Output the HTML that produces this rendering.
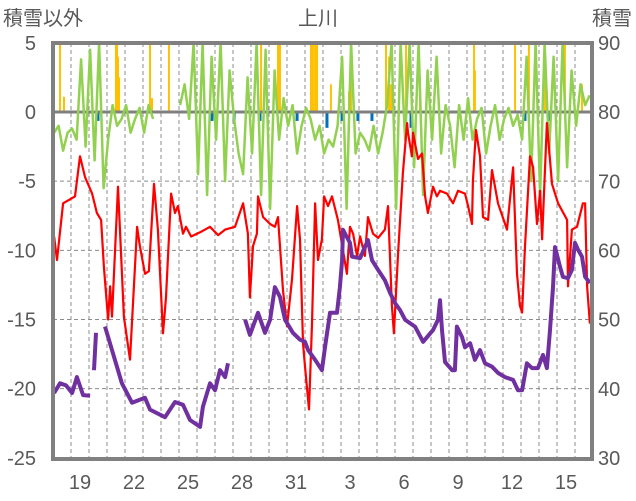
<!DOCTYPE html>
<html><head><meta charset="utf-8"><style>
body{margin:0;background:#fff;}
svg{display:block;font-family:"Liberation Sans","Noto Sans CJK JP",sans-serif;}
</style></head><body>
<svg id="chart" width="636" height="501" viewBox="0 0 636 501" xmlns="http://www.w3.org/2000/svg">
<defs><clipPath id="pc"><rect x="53" y="43" width="539" height="416"/></clipPath></defs>
<text x="3" y="25" font-size="20" fill="#595959">積雪以外</text>
<text x="318" y="25" font-size="20" fill="#595959" text-anchor="middle">上川</text>
<text x="632" y="25" font-size="20" fill="#595959" text-anchor="end">積雪</text>
<g id="grid"></g>
<g id="bars" clip-path="url(#pc)"></g>
<g id="lines" clip-path="url(#pc)"></g>
<g id="ticks"></g>
<rect x="53" y="43" width="539" height="416" fill="none" stroke="#808080" stroke-width="4"/>
</svg>
<script>
const leftTicks=[5,0,-5,-10,-15,-20,-25];
const rightTicks=[90,80,70,60,50,40,30];
const xLabels=["19","22","25","28","31","3","6","9","12","15"];
const xLabelDays=[1.5,4.5,7.5,10.5,13.5,16.5,19.5,22.5,25.5,28.5];
const redT=[0.06,0.22,0.56,1.22,1.5,1.78,2.17,2.44,2.67,2.83,3.06,3.17,3.28,3.61,3.94,4.28,4.67,4.83,5.11,5.33,5.61,5.83,6.11,6.28,6.56,6.78,6.94,7.22,7.39,7.67,8.17,8.72,9.17,9.56,10.11,10.56,10.83,10.94,11.11,11.33,11.39,11.67,12.06,12.33,12.5,12.78,13.0,13.28,13.56,13.72,13.89,14.0,14.22,14.39,14.56,14.72,14.94,15.06,15.28,15.5,15.83,16.33,16.5,16.67,16.89,17.06,17.33,17.5,17.78,18.06,18.44,18.61,18.83,18.94,19.17,19.44,19.67,19.72,19.94,20.0,20.28,20.5,20.67,20.83,21.11,21.33,21.5,21.89,22.22,22.5,22.89,23.06,23.28,23.33,23.5,23.72,23.89,24.17,24.39,24.72,25.22,25.56,25.78,25.94,26.06,26.22,26.5,26.67,26.89,27.06,27.17,27.44,27.72,28.06,28.56,28.61,28.83,29.11,29.44,29.56,29.67,29.83];
const redV=[-9.0,-10.7,-6.6,-6.1,-3.2,-4.7,-5.9,-7.3,-7.8,-11.2,-15.0,-12.6,-14.8,-5.4,-14.8,-17.9,-8.3,-9.7,-11.7,-11.5,-5.2,-8.5,-16.0,-13.4,-5.9,-7.3,-6.8,-8.8,-8.3,-9.0,-8.7,-8.3,-8.9,-8.5,-8.3,-6.6,-8.8,-13.4,-9.7,-8.8,-6.1,-7.6,-8.1,-8.3,-7.6,-12.9,-15.5,-12.1,-6.8,-9.2,-16.7,-18.4,-21.5,-15.3,-6.6,-10.7,-9.2,-6.1,-6.8,-6.1,-7.8,-11.7,-8.3,-8.8,-10.4,-9.0,-10.4,-7.6,-8.8,-9.1,-8.5,-6.8,-14.0,-16.0,-10.2,-4.4,-0.8,-1.5,-3.2,-1.5,-3.4,-3.0,-6.1,-7.3,-5.4,-6.1,-5.7,-5.9,-6.6,-5.7,-5.9,-6.8,-8.1,-5.0,-1.3,-3.2,-7.6,-7.8,-4.2,-6.6,-8.5,-4.0,-11.7,-14.0,-14.5,-9.7,-3.2,-4.0,-8.1,-5.7,-9.2,-0.8,-5.2,-6.6,-7.8,-12.6,-8.5,-8.3,-6.6,-6.6,-12.6,-15.3];
const snowT=[0.06,0.39,0.72,1.06,1.33,1.67,2.06,null,2.28,2.39,null,2.89,3.44,3.83,4.39,5.11,5.39,6.22,6.78,7.22,7.61,8.17,8.33,8.72,9.0,9.28,9.56,9.72,null,10.67,10.94,11.39,11.78,12.06,12.33,12.61,12.89,13.33,13.72,14.0,14.17,14.56,14.94,15.11,15.39,15.78,15.94,16.06,16.11,16.5,16.61,17.06,17.33,17.5,17.72,18.06,18.44,18.72,19.0,19.28,19.56,19.83,20.11,20.56,21.11,21.39,21.5,21.61,21.78,22.17,22.33,22.44,22.72,22.89,23.17,23.44,23.72,24.0,24.39,24.72,25.11,25.56,25.83,26.06,26.33,26.61,26.94,27.22,27.44,27.61,27.78,27.89,28.17,28.33,28.61,28.83,29.0,29.17,29.39,29.56,29.83];
const snowV=[39.4,40.8,40.5,39.4,41.7,39.1,39.0,null,42.7,48.1,null,49.0,44.2,40.8,38.0,38.7,37.0,35.9,38.1,37.7,35.5,34.5,37.4,40.8,39.8,42.7,41.7,43.7,null,50.0,47.8,51.0,48.1,50.0,54.7,53.3,50.0,48.1,47.1,46.8,45.6,44.2,42.7,46.0,51.0,51.0,54.7,58.6,63.0,61.1,59.1,58.9,60.5,61.5,58.6,57.2,55.7,53.9,52.4,51.4,50.0,49.5,49.0,46.8,48.5,50.0,52.8,48.5,43.9,42.7,42.7,49.0,47.5,46.0,46.6,44.2,45.6,43.7,43.2,42.3,41.7,41.3,39.8,39.8,43.7,43.0,43.0,44.9,43.0,48.5,54.7,60.5,57.6,56.2,56.0,57.2,61.1,60.1,59.1,56.2,55.3];
const greenStep=0.25;
const greenV=[-1.5,-1.0,-2.8,-1.5, -1.2,-2.0,3.8,-2.5, 4.5,-3.5,5,-5.5, -2.0,0.5,-1.0,-0.5, 0.5,-1.5,-0.5,0.3, -1.5,0.5,-0.5,null, null,null,null,null, 0.5,2.0,-0.5,5, -4.5,5,-6,4, -2,5,-5,3, -0.5,-3,-4.5,2.5, -3,5,-6,4.5, -7,3,-2,1, -1,0.5,-3,-1, 0.3,-0.5,-2,-1, -3,-2,-2.5,-1, 4,-7,5,-3, -1.5,-2,-2.8,-1, -3,-1.5,0.5,5, -7,5,-2,5, -4,5,-6,3, -2,4,-3,0.5, -1,-4,0.5,-2, 1,-2,-0.5,0.3, -3,-1,0.5,-2, -0.5,0.3,-1,-0.2, -2,4,-5,5, -6,5,-3,4, -5,5,-4,3, -1,2,0.5,1.2];
const orangeT=[0.39,0.61,3.5,3.56,3.61,3.67,5.39,5.5,6.44,11.56,12.5,12.61,14.33,14.44,14.56,14.67,15.44,16.44,16.56,18.5,18.67,18.78,19.61,20.39,23.39,23.44,25.67,26.44,27.33,27.44,28.44,29.39];
const orangeV=[5,1.1,5,5,4,2.5,5,1,5,5,5,5,5,5,5,5,2,1.5,5,5,4,2,5,2.5,5,3,5,5,5,1.5,5,2];
const blueT=[2.5,8.83,10.06,11.5,13.56,15.22,16.06,16.94,17.72,19.89,26.22,27.5];
const blueV=[-0.5,-0.5,-0.5,-0.5,-0.5,-1,-0.5,-0.5,-0.5,-1,-0.5,-0.5];

const NS='http://www.w3.org/2000/svg';
const X0=53,DAY=18,nDays=30;
const xs=t=>X0+t*DAY;
const yL=v=>112-v*13.833;
const yR=s=>43+(90-s)*6.917;
function mk(tag,attrs,parent){const e=document.createElementNS(NS,tag);for(const k in attrs)e.setAttribute(k,attrs[k]);parent.appendChild(e);return e;}
const grid=document.getElementById('grid'),ticks=document.getElementById('ticks'),bars=document.getElementById('bars'),lines=document.getElementById('lines');
for(let d=1;d<nDays;d++){
  const l=mk('line',{x1:xs(d),x2:xs(d),y1:43,y2:459,stroke:'#8c8c8c','stroke-width':1,'stroke-dasharray':'4,3'},grid);
  
  
}
leftTicks.forEach((v,i)=>{
  if(v!==0&&v!==5&&v!==-25){const l=mk('line',{x1:53,x2:592,y1:yL(v),y2:yL(v),stroke:'#8c8c8c','stroke-width':1,'stroke-dasharray':'4,3'},grid);
  
  }
  const t=mk('text',{x:36,y:yL(v)+7,'font-size':20,fill:'#595959','text-anchor':'end'},ticks);t.textContent=v;
  
  
  const r=mk('text',{x:598,y:yR(rightTicks[i])+7,'font-size':20,fill:'#595959'},ticks);r.textContent=rightTicks[i];
  
  
});
xLabels.forEach((s,i)=>{const t=mk('text',{x:xs(xLabelDays[i]),y:489,'font-size':20,fill:'#595959','text-anchor':'middle'},ticks);t.textContent=s;
  
  });
orangeT.forEach((t,i)=>{const v=orangeV[i];const b=mk('rect',{x:xs(t)-1,y:yL(v),width:2,height:yL(0)-yL(v),fill:'#ffc000'},bars);
  
  });
blueT.forEach((t,i)=>{const v=blueV[i];const b=mk('rect',{x:xs(t)-1.5,y:yL(0),width:3,height:yL(v)-yL(0)+2,fill:'#0070c0'},bars);
  
  });
const zl=mk('line',{x1:53,x2:592,y1:yL(0),y2:yL(0),stroke:'#808080','stroke-width':3},bars);


function pathFrom(ts,vs,yf){let d='',pen=false;for(let i=0;i<vs.length;i++){if(vs[i]===null||ts[i]===null){pen=false;continue;}d+=(pen?'L':'M')+xs(ts[i]).toFixed(1)+','+yf(vs[i]).toFixed(1);pen=true;}return d;}
const gT=greenV.map((v,i)=>i*greenStep+0.06);
const g=mk('path',{d:pathFrom(gT,greenV,yL),fill:'none',stroke:'#92d050','stroke-width':2.5,'stroke-linejoin':'round'},lines);


const r=mk('path',{d:pathFrom(redT,redV,yL),fill:'none',stroke:'#ff0000','stroke-width':2.2,'stroke-linejoin':'round'},lines);


const p=mk('path',{d:pathFrom(snowT,snowV,yR),fill:'none',stroke:'#7030a0','stroke-width':4,'stroke-linejoin':'round'},lines);


</script>
</body></html>
